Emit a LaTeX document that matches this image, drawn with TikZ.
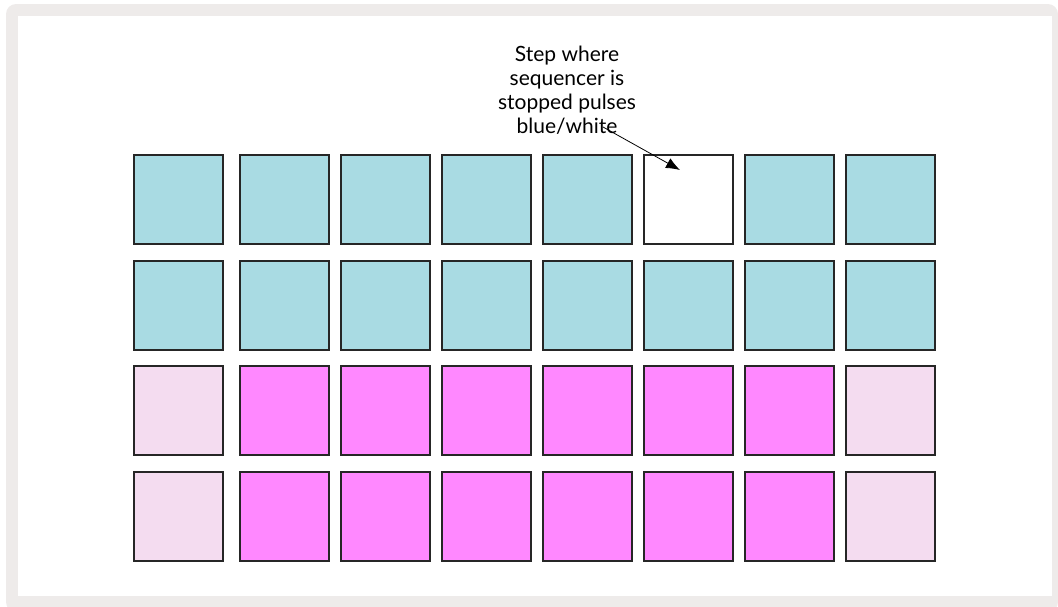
\documentclass[tikz,border=0pt]{standalone}
\usepackage{fontspec}
\setmainfont{Lato}
\usetikzlibrary{arrows.meta, positioning}
\definecolor{rahmengrau}{HTML}{EEEBEA}
\definecolor{padblau}{HTML}{A9DBE3}
\definecolor{padmagenta}{HTML}{FF88FF}
\definecolor{padrosa}{HTML}{F4DCF0}

\begin{document}
\begin{tikzpicture}[pad/.style={draw=black!85, line width=1.1pt, minimum size=89pt, inner sep=0pt, outer sep=0pt, fill=#1},
				x=1pt, y=-1pt,
				>={Latex[length=14pt, width=11pt]},   %Pfeilspitzen
				font=\fontsize{21}{24}\selectfont]
				\useasboundingbox (0,0) rectangle (1058,606);
				%Rahmen zeichnen
				\fill[rahmengrau, rounded corners=10pt] (6,4) rectangle (1058,612);
				\fill[white] (18,16) rectangle (1052,596);
				% obere Reihen (blau)
				\foreach \x [count=\i] in {178.5,284.5,385.5,486.5,587.5,688.5,789.5,890.5}
				\foreach \y [count=\j] in {199.5,305.5}
				\node[pad=padblau] (p\j\i) at (\x,\y) {};
				% Schritt gestoppt
				\node[pad=white] (p16) at (688.5,199.5) {};
				% untere Reihen (magenta)
				\foreach \x [count=\i] in {178.5,284.5,385.5,486.5,587.5,688.5,789.5,890.5}
				\foreach \y [count=\j from 3] in {410.5,516.5}
				\node[pad=padmagenta] (p\j\i) at (\x,\y) {};
				\foreach \j in {3,4} \foreach \i in {1,8}
				\node[pad=padrosa] at (p\j\i) {};
				%Beschriftung
				\node[align=center] (hinweis) at (567,90) {Step where\\sequencer is\\stopped pulses\\blue/white};
				\coordinate (pfeilstart) at (603,127);
				\draw[->, line width=0.8pt] (pfeilstart) -- ([xshift=-8.5pt, yshift=29.5pt]p16.center);
			\end{tikzpicture}
\end{document}
